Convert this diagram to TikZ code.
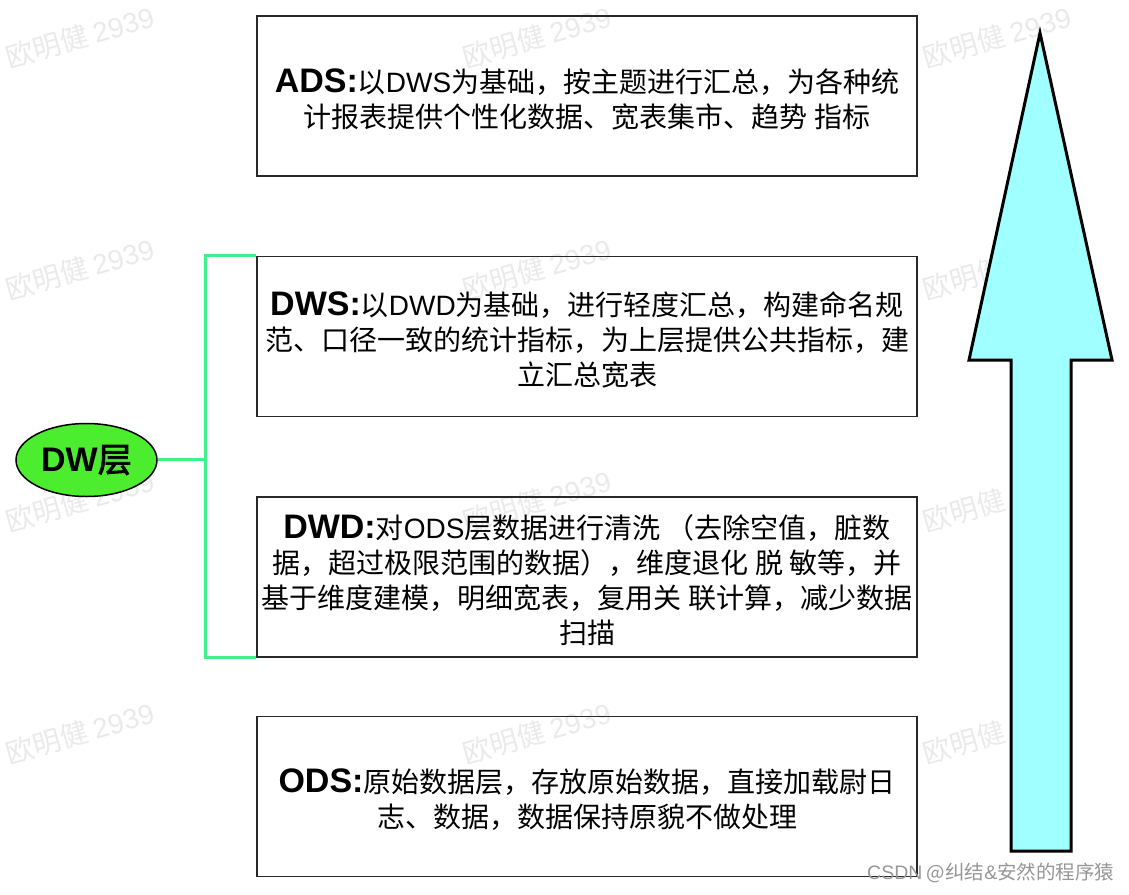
\documentclass[tikz,border=0pt]{standalone}
\usepackage{fontspec}
\setmainfont{Liberation Sans}
\newfontfamily\cjk{Noto Sans CJK SC}
\newfontfamily\cjkb[FakeBold=2.5]{Noto Sans CJK SC}
\newfontfamily\lat{Liberation Sans}
\usetikzlibrary{shapes.geometric,calc}
\definecolor{boxline}{RGB}{40,40,40}
\definecolor{ellfill}{RGB}{76,236,46}
\definecolor{bracket}{RGB}{64,240,136}
\definecolor{arrowfill}{RGB}{160,255,255}
\definecolor{wm}{RGB}{234,234,234}
\definecolor{csdn}{RGB}{150,150,150}
\tikzset{
  layerbox/.style={draw=boxline, line width=1.6pt, minimum width=660pt, minimum height=160pt,
    inner sep=0pt},
  boxtext/.style={align=center, inner sep=0pt, font=\cjk\fontsize{28}{35}\selectfont},
  dwell/.style={ellipse, draw=black, line width=1.5pt, fill=ellfill, minimum width=141pt,
    minimum height=73pt, inner sep=0pt},
  brk/.style={draw=bracket, line width=3pt},
  bigarrow/.style={draw=black, line width=3pt, fill=arrowfill, line join=miter},
  wmark/.style={text=wm, rotate=16, font=\cjk\fontsize{28}{28}\selectfont},
}
\newcommand{\hd}[1]{{\lat\bfseries\fontsize{34}{35}\selectfont #1}}
\newcommand{\la}[1]{{\lat #1}}
\begin{document}
\begin{tikzpicture}[x=1pt,y=-1pt]
\useasboundingbox (0,0) rectangle (1129,894);
% watermarks
\foreach \wx in {80,537,997}{
  \foreach \wy in {37,269,501,733}{
    \node[wmark] at (\wx,\wy) {欧明健 \la{2939}};
  }
}
% boxes
\node[layerbox] (ads) at (587,96) {};
\node[boxtext] (adst) at ($(ads.center)+(0,3.5)$) {\hd{ADS:}以\la{DWS}为基础，按主题进行汇总，为各种统\\计报表提供个性化数据、宽表集市、趋势 指标};
\node[layerbox] (dws) at (587,336.5) {};
\node[boxtext] (dwst) at ($(dws.center)+(0,3.5)$) {\hd{DWS:}以\la{DWD}为基础，进行轻度汇总，构建命名规\\范、口径一致的统计指标，为上层提供公共指标，建\\立汇总宽表};
\node[layerbox] (dwd) at (587,577) {};
\node[boxtext] (dwdt) at ($(dwd.center)+(0,3.5)$) {\hd{DWD:}对\la{ODS}层数据进行清洗 （去除空值，脏数\\据，超过极限范围的数据），维度退化 脱 敏等，并\\基于维度建模，明细宽表，复用关 联计算，减少数据\\扫描};
\node[layerbox] (ods) at (587,796.5) {};
\node[boxtext] (odst) at ($(ods.center)+(0,3.5)$) {\hd{ODS:}原始数据层，存放原始数据，直接加载尉日\\志、数据，数据保持原貌不做处理};
% ellipse
\node[dwell] (dw) at (86.5,460) {\hd{DW}{\cjkb\fontsize{34}{35}\selectfont 层}};
% bracket
\coordinate (bj) at (206,459);
\draw[brk] (dw.east |- bj) -- (bj);
\draw[brk] (dws.north west) -- ++(-51,0) -- ($(dwd.south west)+(-51,0)$) -- (dwd.south west);
% big arrow
\draw[bigarrow] (1011,851) -- (1011,360) -- (969,360) -- (1040,33) -- (1112,360) -- (1071,360) -- (1071,851) -- cycle;
% csdn mark
\node[text=csdn, anchor=west, font=\cjk\fontsize{19.5}{20}\selectfont, inner sep=0pt] (csdn) at (867,873) {\la{CSDN} @纠结\la{\&}安然的程序猿};
\end{tikzpicture}
\end{document}
